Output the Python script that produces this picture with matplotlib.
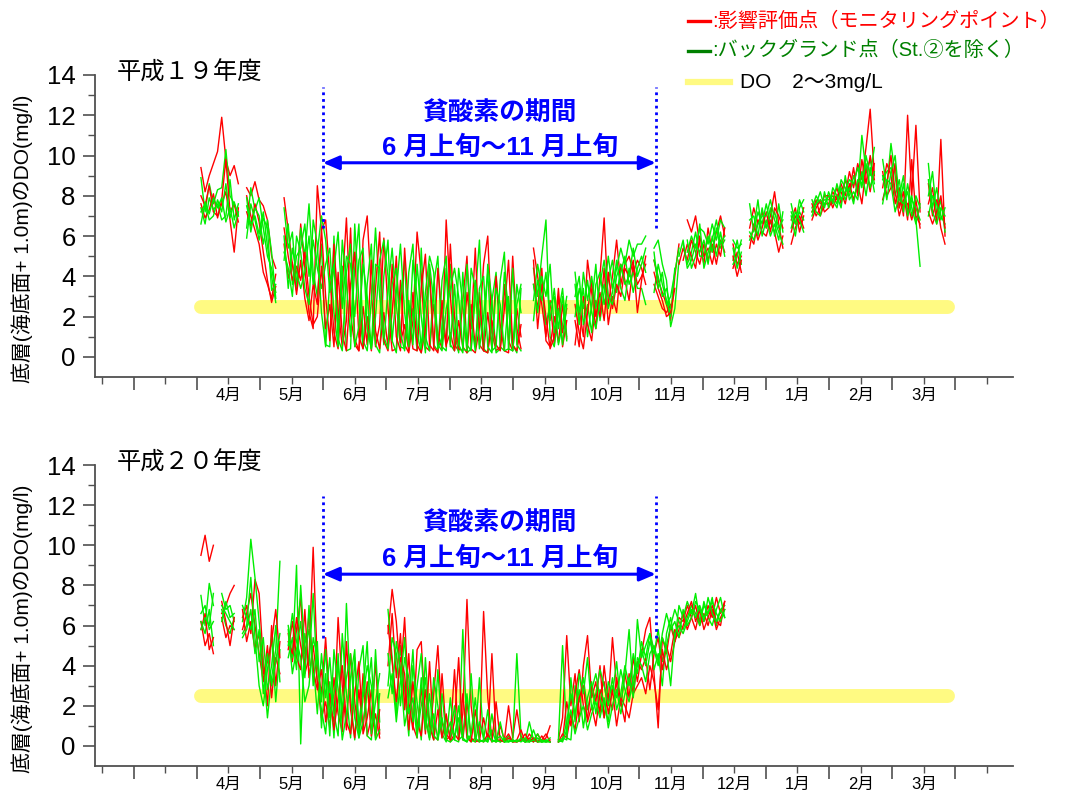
import numpy as np
import matplotlib
matplotlib.use('Agg')
import matplotlib.pyplot as plt
from matplotlib.lines import Line2D

plt.rcParams['font.family'] = ['Liberation Sans', 'Noto Sans CJK JP']
plt.rcParams['axes.unicode_minus'] = False

# 月ラベル（4月始まり）
months = ['4月', '5月', '6月', '7月', '8月', '9月', '10月', '11月', '12月', '1月', '2月', '3月']
titles = ['平成１９年度', '平成２０年度']

# 底層DO (mg/l)、4月1日から2日おき、None は欠測
h19_red_a = [None,
    9.4, 8.2, 9.0, 9.6, 10.2, 11.9, 9.8, 9.0, 9.5, 8.6, None,
    8.4, 8.0, 8.7, 7.8, 7.5, 6.8, 5.0, 4.4, None,
    7.9, 6.3, 4.6, 3.3,
    6.6, 4.4, 2.2, 1.4, 8.5, 6.3,
    6.8, 4.0, 1.2, 0.4, 3.5, 6.9, 2.1, 0.6, 0.3, 5.8, 7.0, 3.2, 0.5, 1.6, 5.9,
    2.4, 0.3, 0.4, 3.8, 0.6, 0.2, 1.8, 6.2, 4.1, 0.5, 0.3, 2.6, 1.1, 0.4, 6.8, 3.0,
    0.6, 0.3, 2.8, 5.0, 0.4, 0.2, 1.5, 4.6, 6.0, 1.2, 0.3, 0.5, 3.6, 0.8, 0.3, 2.4, 1.0,
    None, None,
    5.4, 4.0, 2.6, 1.0, 2.8, 0.6, 3.0, 1.2, 2.4, None,
    0.6, 2.4, 1.0, 4.8, 3.2, 1.4, 4.0, 6.9, 2.6, 4.0, 5.8, 3.6, 4.6, 5.0, 4.2, 4.8,
    4.4, 3.6, None, 4.8, 3.8, 3.2, 2.6, 1.8, 4.0, 5.6, None, 6.8, 6.2, 7.0, 5.6,
    4.6, 6.4, 5.2, 6.2, 7.0, 6.0, None, 4.4, 5.2, 4.2, None, 6.4, 7.4, 6.6, 7.2,
    6.4, 7.0, 8.2, 6.6, 5.4, None, 6.8, 7.4, 6.2, 7.0, None, 7.2, 7.8, 7.0, 7.6,
    7.6, 8.2, 7.8, 8.6, 8.0, 9.2, 8.4, 9.6, 8.8, 10.4, 12.3, 9.0, None, 8.4, 9.6,
    9.0, 7.6, 8.4, 7.0, 12.0, 8.0, 11.5, 7.2, None, 7.6, 8.4, 6.6, 10.8, 6.0, None, None]

h19_red_b = [None,
    8.0, 7.5, 8.5, 7.2, 7.0, 7.6, 8.2, 6.8, 5.2, 7.4, None,
    7.2, 6.5, 7.6, 6.7, 5.2, 3.8, 2.7, 3.5, None,
    5.6, 3.9, 4.7, 3.1,
    4.8, 2.9, 1.8, 3.6, 2.6, 6.4,
    3.0, 0.8, 5.6, 2.4, 0.5, 1.8, 6.4, 0.9, 0.3, 2.5, 0.6, 4.8, 1.3, 0.4, 2.2,
    0.5, 4.6, 1.0, 0.3, 5.4, 2.2, 0.4, 0.3, 3.4, 5.1, 0.6, 0.3, 4.4, 2.0, 0.5, 5.6,
    2.0, 0.4, 0.3, 3.2, 1.4, 5.4, 0.6, 0.3, 2.2, 0.4, 4.0, 1.6, 0.3, 0.2, 5.0, 1.4, 0.4,
    None, None,
    3.6, 2.4, 4.4, 0.8, 0.5, 2.0, 0.7, 2.6, 0.9, None,
    1.8, 0.5, 3.0, 1.6, 0.8, 2.8, 2.0, 4.4, 1.6, 3.0, 2.2, 4.6, 3.8, 2.8, 4.6, 3.6,
    4.0, 4.6, None, 3.6, 3.0, 2.4, 2.2, 2.6, None, 4.6, 5.4, 4.8, 5.8, 5.2, 4.6,
    5.6, 4.8, 5.6, 4.6, 5.8, 5.2, None, 5.6, 4.6, 5.0, None, 6.0, 5.6, 6.8, 6.2,
    6.0, 6.8, 6.2, 5.2, 6.0, None, 5.6, 6.4, 7.0, 6.4, None, 6.8, 7.4, 7.8, 7.2,
    7.4, 7.8, 8.4, 7.6, 8.8, 8.2, 9.4, 8.0, 9.8, 8.6, 10.0, 8.8, None, 9.2, 8.0,
    8.4, 9.6, 7.4, 8.2, 6.8, 9.8, 7.0, 6.6, None, 8.6, 7.0, 7.8, 6.4, 5.6, None, None]

h19_red_c = [None,
    7.6, 6.9, 7.3, 8.1, 6.9, 7.8, 9.8, 7.2, 7.6, 6.7, None,
    8.0, 7.0, 6.3, 5.6, 4.2, 3.6, 2.9, 4.1, None,
    6.4, 5.0, 3.8, 4.5,
    3.8, 5.2, 3.0, 1.6, 2.0, 4.5,
    1.4, 2.6, 0.5, 4.2, 1.1, 0.3, 3.6, 5.2, 1.0, 0.4, 2.0, 0.3, 3.4, 6.2, 0.8,
    0.3, 2.2, 5.0, 0.7, 1.6, 0.3, 3.2, 0.6, 0.2, 1.3, 4.4, 0.5, 0.2, 2.8, 0.6, 1.2,
    0.3, 1.8, 0.5, 0.2, 2.6, 0.5, 3.2, 0.3, 0.2, 1.8, 0.6, 0.3, 2.4, 4.8, 0.6, 0.3, 1.6,
    None, None,
    4.8, 1.4, 3.6, 2.0, 0.4, 1.0, 3.4, 0.5, 1.8, None,
    2.6, 1.2, 0.4, 2.2, 3.8, 2.0, 3.2, 1.8, 4.2, 2.4, 3.6, 3.0, 4.4, 4.0, 4.8, 2.2,
    3.8, 5.0, None, 4.2, 3.4, 2.8, 2.0, 2.2, 3.4, None, 4.8, 5.6, 5.0, 4.4, 6.0,
    5.0, 5.4, 4.6, 5.6, 5.0, 6.4, None, 5.0, 4.0, 4.8, None, 5.4, 6.6, 5.8, 6.4,
    7.2, 6.2, 7.4, 7.0, 6.4, None, 6.2, 7.0, 6.6, 7.4, None, 7.6, 7.0, 7.4, 8.0,
    8.0, 7.4, 8.0, 8.2, 7.6, 8.6, 7.8, 8.6, 7.6, 9.4, 8.2, 9.6, None, 7.8, 8.6,
    10.0, 8.2, 7.0, 7.8, 7.6, 6.8, 7.8, 6.4, None, 7.2, 6.6, 7.2, 8.0, 6.4, None, None]

h19_green_a = [None,
    8.9, 7.2, 8.6, 7.6, 8.3, 8.4, 10.3, 8.0, 7.6, 7.0, None,
    6.4, 8.4, 7.3, 7.9, 6.4, 5.0, 4.4, 3.2, None,
    7.4, 5.4, 6.2, 3.4,
    6.4, 5.0, 7.6, 4.2, 3.0, 5.6,
    0.6, 0.5, 6.0, 1.2, 4.5, 0.3, 0.4, 6.6, 2.8, 0.4, 3.6, 5.6, 0.6, 0.2, 4.0,
    5.8, 0.8, 0.2, 3.0, 4.8, 0.4, 2.4, 0.3, 5.4, 1.0, 0.3, 3.6, 5.0, 0.5, 0.3, 4.6,
    1.2, 0.2, 4.2, 0.6, 0.3, 3.0, 5.8, 0.4, 0.2, 2.8, 4.2, 0.5, 0.3, 3.0, 0.6, 0.2, 3.4,
    None, None,
    4.4, 3.0, 5.0, 6.8, 1.0, 0.5, 2.2, 3.4, 1.0, None,
    4.2, 2.2, 3.4, 1.0, 2.6, 4.6, 1.8, 3.2, 5.0, 3.4, 4.4, 5.4, 4.6, 5.8, 5.0, 5.6,
    5.6, 6.0, None, 5.4, 5.8, 4.6, 3.8, 1.5, 2.4, 4.8, None, 5.2, 6.0, 5.4, 6.4,
    6.2, 5.6, 6.6, 5.8, 6.8, 6.4, None, 5.8, 5.4, 5.6, None, 7.6, 6.2, 7.2, 6.6,
    7.6, 6.6, 7.2, 6.4, 6.8, None, 7.6, 6.6, 7.2, 6.8, None, 7.4, 8.0, 7.6, 7.8,
    7.8, 8.0, 7.6, 8.8, 8.4, 8.0, 9.0, 8.2, 11.0, 9.2, 9.8, 8.6, None, 9.8, 8.4,
    10.6, 9.0, 7.4, 8.6, 7.2, 8.0, 6.8, 4.5, None, 9.6, 7.4, 8.4, 7.0, 6.6, None, None]

h19_green_b = [None,
    7.4, 6.6, 7.9, 7.3, 7.6, 6.8, 7.0, 8.8, 6.8, 7.6, None,
    7.5, 6.6, 7.0, 6.1, 7.2, 5.5, 4.0, 2.7, None,
    4.8, 6.6, 3.6, 5.0,
    5.4, 6.6, 4.0, 5.8, 4.4, 3.4,
    4.6, 5.4, 2.2, 0.5, 5.8, 3.6, 1.0, 4.4, 6.6, 0.8, 0.3, 2.8, 6.4, 3.0, 0.6,
    3.4, 5.4, 2.6, 0.5, 0.4, 4.2, 5.6, 1.2, 0.2, 2.6, 3.8, 0.6, 0.3, 3.8, 5.0, 0.6,
    0.3, 4.4, 2.6, 0.2, 0.4, 3.8, 2.2, 0.3, 4.6, 2.8, 0.2, 0.4, 4.2, 2.4, 0.3, 3.6, 2.2,
    None, None,
    2.8, 4.6, 3.4, 1.6, 2.6, 3.0, 0.6, 1.6, 3.0, None,
    3.0, 4.0, 1.6, 2.6, 1.2, 3.6, 4.2, 2.6, 3.8, 4.8, 3.2, 4.2, 5.0, 3.6, 4.2, 3.4,
    3.4, 2.6, None, 3.2, 4.6, 3.6, 2.8, 2.0, 4.4, None, 5.6, 4.6, 5.2, 6.2, 5.0,
    5.0, 6.0, 5.2, 6.4, 5.4, 5.8, None, 4.8, 5.8, 4.6, None, 6.8, 7.0, 6.0, 7.4,
    6.4, 7.4, 6.0, 7.6, 6.2, None, 7.0, 6.0, 7.4, 7.8, None, 7.0, 7.6, 8.2, 7.4,
    8.2, 7.6, 8.6, 7.8, 8.2, 8.8, 8.6, 9.4, 8.4, 10.0, 9.0, 10.4, None, 8.8, 9.2,
    9.4, 8.0, 8.8, 7.2, 8.6, 7.4, 6.6, 7.6, None, 8.0, 9.2, 7.0, 7.8, 6.2, None, None]

h19_green_c = [None,
    6.6, 7.7, 7.1, 7.9, 7.4, 7.9, 6.7, 7.4, 6.4, 7.2, None,
    5.9, 7.6, 6.8, 5.8, 6.9, 6.4, 3.3, 3.6, None,
    6.0, 3.4, 5.4, 4.2,
    3.4, 4.2, 6.0, 3.6, 5.2, 7.0,
    5.8, 3.2, 4.4, 6.2, 2.4, 5.0, 4.6, 2.0, 4.8, 5.4, 1.4, 0.4, 2.0, 4.8, 5.8,
    4.0, 0.8, 3.2, 5.6, 2.2, 0.5, 4.8, 3.0, 0.4, 3.2, 5.0, 4.2, 0.6, 0.3, 2.4, 3.4,
    4.4, 3.0, 0.4, 0.3, 4.4, 3.4, 0.4, 2.0, 4.2, 0.3, 0.5, 3.8, 5.2, 0.4, 0.3, 2.6, 3.6,
    None, None,
    3.6, 2.2, 4.0, 3.0, 4.6, 1.2, 2.4, 0.6, 2.6, None,
    2.0, 3.4, 2.4, 3.8, 2.2, 1.4, 2.8, 3.6, 2.4, 3.2, 4.8, 3.4, 2.8, 4.4, 3.2, 4.4,
    5.0, 4.2, None, 4.8, 4.0, 3.0, 3.4, 2.4, None, 5.0, 5.8, 4.4, 4.8, 5.6, 5.2,
    5.8, 4.6, 6.0, 5.0, 6.2, 5.0, None, 5.4, 4.4, 5.2, None, 5.8, 6.4, 7.8, 6.0,
    6.8, 6.0, 6.6, 5.8, 7.2, None, 6.4, 7.2, 6.8, 6.2, None, 7.8, 7.2, 7.0, 8.2,
    7.4, 8.4, 8.0, 7.4, 9.0, 7.8, 8.2, 7.8, 9.2, 8.0, 9.4, 8.2, None, 7.6, 8.8,
    8.6, 7.2, 8.0, 9.0, 7.0, 7.8, 7.4, 6.8, None, 8.8, 7.2, 6.6, 7.4, 7.0, None, None]

h19_green_d = [None,
    7.2, 7.6, 6.8, 7.0, 7.8, 7.2, 8.6, 6.9, 7.7, 7.0, None,
    7.9, 6.2, 7.4, 7.0, 5.6, 6.8, 5.2, 2.9, None,
    5.2, 4.4, 3.0, 6.0,
    5.2, 3.4, 2.6, 6.8, 5.6, 2.2,
    0.5, 3.8, 4.6, 0.9, 0.3, 4.2, 5.6, 0.5, 1.5, 4.6, 3.0, 0.4, 4.6, 4.4, 1.0,
    0.4, 3.6, 4.4, 1.2, 0.3, 2.8, 0.6, 4.6, 2.0, 0.2, 4.6, 2.8, 0.4, 1.0, 4.4, 0.5,
    3.6, 0.6, 0.2, 4.6, 1.8, 0.3, 3.4, 4.0, 0.5, 0.2, 3.4, 2.6, 0.3, 0.4, 4.4, 0.6, 0.3,
    None, None,
    1.8, 3.8, 2.8, 4.2, 1.8, 3.4, 1.4, 3.0, 0.8, None,
    3.6, 1.6, 4.2, 2.8, 4.0, 2.4, 3.6, 4.8, 3.0, 2.6, 4.0, 4.6, 3.6, 4.0, 5.4, 4.0,
    4.6, 5.4, None, 5.2, 3.4, 4.2, 2.6, 3.0, 4.2, 5.4, None, 5.8, 4.4, 5.0, 6.6,
    4.4, 5.2, 5.8, 6.8, 5.6, 6.0, None, 4.6, 5.0, 5.8, None, 6.2, 5.8, 6.6, 7.0,
    7.0, 7.8, 6.8, 6.2, 5.6, None, 7.2, 6.6, 7.8, 7.2, None, 7.2, 7.6, 7.8, 7.6,
    8.0, 7.8, 7.4, 8.4, 7.8, 8.4, 7.6, 8.8, 8.6, 9.6, 8.4, 9.2, None, 9.0, 7.8,
    9.2, 10.0, 7.8, 7.6, 8.2, 7.0, 8.0, 7.4, None, 7.0, 8.0, 7.6, 6.8, 7.4, None, None]

h20_red_a = [None,
    9.5, 10.5, 9.2, 10.0, None,
    6.6, 7.0, 7.6, 8.0, None,
    6.4, 7.0, 5.6, 8.3, 7.6, 4.2, 2.0, 6.0, 3.0, 5.2, None,
    5.6, 4.2, 5.8, 7.4, 3.6, 4.4, 9.9, 4.0, 2.6, 5.4, 2.0, 1.2, 6.4, 3.0, 0.8, 4.6,
    2.2, 0.6, 3.6, 0.5, 1.4, 4.2, 0.6, None,
    5.6, 7.8, 6.2, 3.4, 6.4, 2.2, 0.8, 4.8, 5.2, 1.4, 0.4, 2.6, 5.0, 1.2, 0.3,
    0.5, 3.8, 0.3, 1.6, 7.3, 2.0, 0.3, 0.2, 6.7, 2.4, 0.3, 0.2, 1.0, 0.3, 2.0, 0.4,
    1.8, 0.4, 0.2, 0.6, 0.3, 0.2, 0.5, 0.2, 0.3, None,
    0.3, 1.4, 5.5, 2.0,
    3.6, 1.2, 4.0, 5.5, 2.4, 3.2, 1.6, 4.0, 2.2, 5.4, 3.0, 2.0, 3.6, 2.4, 4.4, 3.2,
    4.6, 5.8, 6.4, 3.6, 0.9, 5.4, 4.6, 6.0, 5.2, 6.4,
    6.2, 7.0, 6.4, 5.8, 6.8, 6.2, 7.0, 6.4, 7.4, 6.6, 7.2]

h20_red_b = [None,
    6.2, 5.0, 5.6, 4.6, None,
    6.4, 5.4, 6.0, 5.8, None,
    5.8, 6.6, 7.6, 6.0, 4.6, 3.2, 5.0, 2.4, 4.4, 3.6, None,
    4.8, 6.2, 4.4, 3.8, 6.8, 3.4, 5.0, 3.2, 1.4, 2.2, 0.9, 3.4, 1.6, 0.7, 5.2, 1.8,
    0.4, 2.8, 0.8, 3.2, 0.5, 1.6, 0.4, None,
    4.0, 6.6, 3.4, 5.6, 1.8, 4.6, 1.0, 0.4, 3.0, 0.6, 4.2, 0.5, 0.3, 3.6, 0.6,
    0.3, 1.2, 4.4, 0.3, 2.2, 0.4, 0.2, 0.3, 1.4, 0.3, 4.6, 0.4, 0.2, 0.3, 0.6, 0.2,
    0.3, 0.8, 0.2, 0.4, 0.2, 0.6, 0.2, 0.4, 1.0, None,
    0.2, 0.3, 2.2, 1.0,
    2.6, 3.8, 2.0, 1.4, 3.0, 2.2, 4.0, 1.4, 2.6, 1.8, 3.4, 2.2, 1.2, 3.6, 2.6, 4.2,
    3.8, 4.4, 2.8, 4.6, 5.4, 3.8, 5.0, 4.2, 5.2, 5.8,
    6.6, 5.8, 6.4, 7.0, 6.0, 6.6, 6.0, 6.8, 5.8, 6.4, 6.8]

h20_red_c = [None,
    5.8, 6.6, 4.8, 5.4, None,
    7.2, 6.2, 5.0, 6.4, None,
    6.8, 5.2, 6.2, 4.8, 5.6, 3.6, 4.2, 5.2, 6.8, 4.4, None,
    5.2, 4.6, 6.4, 5.0, 4.0, 6.6, 3.8, 2.8, 3.8, 1.2, 2.6, 0.8, 2.4, 4.0, 1.2, 0.6,
    2.6, 4.2, 0.6, 1.4, 2.8, 0.4, 1.8, None,
    6.0, 4.2, 2.2, 4.4, 3.6, 0.8, 3.2, 1.2, 0.5, 2.8, 1.0, 0.3, 1.8, 0.4, 1.6,
    0.2, 0.6, 0.3, 2.6, 0.4, 0.2, 1.8, 0.3, 0.2, 0.6, 0.2, 2.2, 0.3, 0.2, 0.4, 0.2,
    0.2, 0.3, 0.6, 0.2, 0.4, 0.2, 0.3, 0.6, 0.2, None,
    0.2, 0.6, 0.4, 1.6,
    0.8, 2.4, 3.0, 1.2, 2.0, 1.0, 2.6, 3.2, 1.6, 2.8, 1.0, 2.4, 2.0, 1.4, 2.6, 3.0,
    3.4, 2.6, 4.0, 3.2, 1.8, 4.8, 3.8, 4.6, 5.8, 5.4,
    6.0, 6.6, 7.2, 6.2, 6.8, 5.8, 6.4, 7.0, 6.2, 6.0, 7.2]

h20_green_a = [None,
    7.5, 6.0, 8.1, 7.0, None,
    7.6, 6.8, 7.0, 6.2, None,
    6.2, 7.4, 10.3, 8.4, 6.2, 4.0, 1.4, 3.4, 4.8, 9.2, None,
    6.0, 4.4, 9.0, 0.1, 5.6, 4.0, 7.6, 3.2, 1.8, 0.6, 3.2, 0.4, 4.6, 0.9, 7.1, 2.4,
    0.3, 3.8, 5.0, 0.5, 0.3, 4.8, 1.2, None,
    6.8, 4.4, 1.6, 5.0, 2.8, 0.5, 4.0, 2.2, 0.3, 4.4, 1.2, 0.3, 3.8, 0.6, 0.2,
    2.4, 0.3, 0.2, 5.8, 0.6, 0.2, 0.4, 3.4, 0.3, 0.2, 0.8, 0.2, 0.3, 0.2, 0.5, 0.2,
    4.6, 0.5, 0.2, 0.3, 0.2, 0.4, 0.2, 0.3, 0.2, None,
    0.3, 5.0, 0.4, 0.3,
    3.0, 2.2, 3.4, 1.8, 2.8, 3.6, 2.4, 1.4, 3.2, 2.6, 4.2, 2.0, 3.6, 5.8, 2.6, 6.3,
    4.4, 5.0, 5.6, 3.8, 4.6, 3.0, 5.6, 6.4, 5.2, 7.0,
    6.4, 7.2, 6.6, 7.6, 6.2, 7.0, 6.6, 7.4, 6.0, 6.8, 7.0]

h20_green_b = [None,
    6.2, 5.6, 6.8, 5.0, None,
    6.8, 6.0, 5.6, 6.4, None,
    5.6, 6.0, 8.4, 5.4, 3.0, 2.0, 3.8, 5.4, 2.2, 4.8, None,
    4.4, 5.4, 3.8, 8.0, 4.6, 5.8, 4.2, 1.6, 4.6, 2.4, 4.4, 1.6, 0.5, 5.6, 2.6, 0.4,
    4.4, 1.0, 2.8, 5.2, 0.6, 2.2, 3.6, None,
    3.0, 5.4, 4.6, 2.0, 4.4, 3.4, 1.2, 3.0, 4.6, 1.4, 0.3, 3.4, 2.0, 0.4, 1.4,
    0.4, 2.0, 0.3, 0.5, 2.6, 0.3, 0.2, 1.2, 0.4, 0.2, 1.6, 0.3, 0.2, 0.4, 0.2, 0.3,
    0.2, 0.3, 0.2, 1.2, 0.3, 0.2, 0.2, 0.3, 0.2, None,
    0.2, 0.3, 1.2, 2.6,
    1.6, 2.8, 0.9, 2.4, 3.2, 1.6, 2.8, 2.2, 1.2, 3.0, 2.4, 3.8, 2.8, 2.2, 3.4, 4.0,
    4.8, 4.0, 5.2, 4.6, 5.8, 4.2, 5.0, 6.0, 6.8, 6.2,
    5.8, 6.4, 7.0, 6.6, 6.0, 7.2, 6.4, 6.0, 6.8, 7.4, 6.4]

h20_green_c = [None,
    6.6, 7.0, 5.8, 6.2, None,
    7.0, 6.6, 6.2, 5.8, None,
    7.0, 6.4, 5.8, 6.8, 4.2, 5.4, 2.8, 4.0, 6.0, 3.2, None,
    5.0, 6.6, 5.2, 4.4, 2.2, 3.0, 5.4, 4.4, 2.2, 4.8, 1.4, 2.6, 4.0, 1.8, 3.4, 4.6,
    1.4, 0.4, 2.4, 4.0, 3.0, 0.5, 2.6, None,
    4.6, 2.6, 5.2, 3.8, 1.0, 2.2, 4.8, 0.6, 2.0, 3.4, 0.4, 1.6, 0.3, 2.6, 0.5,
    1.2, 0.3, 2.0, 0.4, 0.2, 3.6, 0.4, 0.2, 0.3, 1.8, 0.2, 0.3, 0.5, 0.2, 0.3, 0.2,
    0.3, 0.2, 0.4, 0.2, 0.3, 0.6, 0.2, 0.2, 0.4, None,
    0.2, 0.4, 0.3, 3.4,
    1.2, 3.6, 2.6, 4.4, 1.8, 2.6, 3.8, 3.0, 2.0, 3.4, 1.8, 2.6, 4.0, 3.0, 4.6, 3.6,
    5.2, 4.4, 5.6, 4.8, 4.0, 5.6, 6.6, 5.8, 6.2, 5.4,
    6.8, 6.0, 6.4, 7.2, 6.8, 6.2, 7.4, 6.6, 6.2, 6.8, 6.4]

h20_green_d = [None,
    5.8, 6.4, 6.0, 7.6, None,
    6.2, 7.2, 6.4, 6.6, None,
    5.4, 5.8, 6.8, 4.6, 5.8, 2.6, 4.6, 3.0, 4.2, 5.6, None,
    5.8, 3.6, 4.8, 6.2, 3.4, 7.0, 3.0, 5.2, 0.9, 3.6, 0.5, 4.8, 2.8, 0.3, 1.6, 3.4,
    4.8, 0.4, 1.2, 2.6, 4.4, 0.3, 0.8, None,
    2.4, 3.6, 1.2, 3.2, 5.4, 1.6, 2.4, 0.4, 3.4, 0.8, 2.6, 0.5, 0.3, 1.4, 0.3,
    0.2, 0.4, 1.4, 0.3, 0.2, 0.6, 2.4, 0.3, 0.2, 0.4, 0.3, 0.2, 1.2, 0.2, 0.2, 0.3,
    0.2, 0.4, 0.2, 0.2, 0.8, 0.2, 0.3, 0.2, 0.2, None,
    0.3, 0.2, 0.8, 1.8,
    0.6, 1.4, 2.0, 0.8, 1.6, 2.2, 1.4, 2.4, 0.9, 2.0, 2.8, 1.6, 2.6, 3.4, 2.4, 4.4,
    4.0, 3.2, 4.6, 5.0, 4.2, 5.4, 4.8, 3.0, 5.6, 6.0,
    5.6, 6.2, 6.8, 6.4, 7.0, 6.4, 6.6, 7.2, 6.6, 6.2, 6.8]

RED = '#FF0000'
GREEN = '#00EE00'
BLUE = '#0000FF'
AXIS = '#505050'


def to_month(vals):
    # 2日間隔のデータ → 4月1日起点の月単位の位置
    y = np.array(vals, dtype=float)
    x = np.arange(len(y)) * 2 / 30.42
    return x, y


def draw_panel(ax, title, reds, greens, txt_y, arrow_y, dot_top, dot_bottom):
    ax.set_xlim(-1.61, 12.91)
    ax.set_ylim(-1, 14)
    for s in ['top', 'right']:
        ax.spines[s].set_visible(False)
    for s in ['left', 'bottom']:
        ax.spines[s].set_color(AXIS)
        ax.spines[s].set_linewidth(1.3)

    ax.set_yticks(range(0, 15, 2))
    ax.set_yticks(range(1, 14, 2), minor=True)
    ax.set_xticks(range(-1, 13))
    ax.set_xticklabels([])
    ax.set_xticks(np.arange(-1.5, 13, 1.0), minor=True)
    ax.set_xticklabels(['', ''] + months + [''], minor=True)
    ax.tick_params(axis='y', which='major', length=9, width=1.2, color=AXIS,
                   labelsize=18.5, pad=5)
    ax.tick_params(axis='y', which='minor', length=5, width=1.0, color=AXIS)
    ax.tick_params(axis='x', which='major', length=9.5, width=1.2, color=AXIS)
    ax.tick_params(axis='x', which='minor', length=5, width=1.0, color=AXIS,
                   labelsize=12, pad=3)

    # DO 2～3mg/L の帯
    ax.plot([0.07, 11.88], [2.5, 2.5], color='#FFFA82', lw=10,
            solid_capstyle='round', zorder=1)

    for r, g in zip(reds + [None], greens):
        if r is not None:
            x, y = to_month(r)
            ax.plot(x, y, color=RED, lw=1.0, zorder=2)
        x, y = to_month(g)
        ax.plot(x, y, color=GREEN, lw=1.0, zorder=2)

    # 貧酸素期間の表示
    x0, x1 = 1.994, 7.26
    for xv in (x0, x1):
        ax.plot([xv, xv], [dot_bottom, dot_top], color=BLUE, lw=2,
                linestyle=(0, (1, 1.4)), zorder=3)
    ax.annotate('', xy=(x1, arrow_y), xytext=(x0, arrow_y),
                arrowprops=dict(arrowstyle='<|-|>,head_length=0.7,head_width=0.3',
                                color=BLUE, lw=2.2, mutation_scale=14,
                                shrinkA=0, shrinkB=0), zorder=3)
    ax.text(4.79, txt_y[0], '貧酸素の期間', color=BLUE, fontsize=18.5,
            fontweight='bold', ha='center', va='center')
    ax.text(4.79, txt_y[1], '6 月上旬～11 月上旬', color=BLUE, fontsize=18.5,
            fontweight='bold', ha='center', va='center')

    ax.text(0.024, 1.006, title, transform=ax.transAxes, fontsize=17.5,
            ha='left', va='center')


fig = plt.figure(figsize=(10.66, 7.91), dpi=100)
ax1 = fig.add_axes([0.0891, 0.5234, 0.8612, 0.3818])
ax2 = fig.add_axes([0.0891, 0.0316, 0.8612, 0.3805])

draw_panel(ax1, titles[0], [h19_red_a, h19_red_b, h19_red_c],
           [h19_green_a, h19_green_b, h19_green_c, h19_green_d],
           (12.12, 10.38), 9.64, 13.4, 6.4)
draw_panel(ax2, titles[1], [h20_red_a, h20_red_b, h20_red_c],
           [h20_green_a, h20_green_b, h20_green_c, h20_green_d],
           (11.1, 9.35), 8.56, 12.45, 5.37)

ylab = '底層(海底面+ 1.0m)のDO(mg/l)'
fig.text(0.0206, 0.698, ylab, rotation=90, ha='center', va='center', fontsize=15)
fig.text(0.0206, 0.205, ylab, rotation=90, ha='center', va='center', fontsize=15)

# 凡例
fig.add_artist(Line2D([0.6454, 0.666], [0.9735, 0.9735], color=RED, lw=2.4))
fig.text(0.668, 0.9735, ':影響評価点（モニタリングポイント）', color=RED,
         fontsize=14.5, ha='left', va='center')
fig.add_artist(Line2D([0.6454, 0.666], [0.936, 0.936], color='#008000', lw=2.4))
fig.text(0.668, 0.936, ':バックグランド点（St.②を除く）', color='#008000',
         fontsize=14.5, ha='left', va='center')
fig.add_artist(Line2D([0.6454, 0.6848], [0.8963, 0.8963], color='#FFFA82', lw=4.5))
fig.text(0.694, 0.8963, 'DO　2～3mg/L', color='black', fontsize=15,
         ha='left', va='center')

fig.savefig('out.png', dpi=100)
